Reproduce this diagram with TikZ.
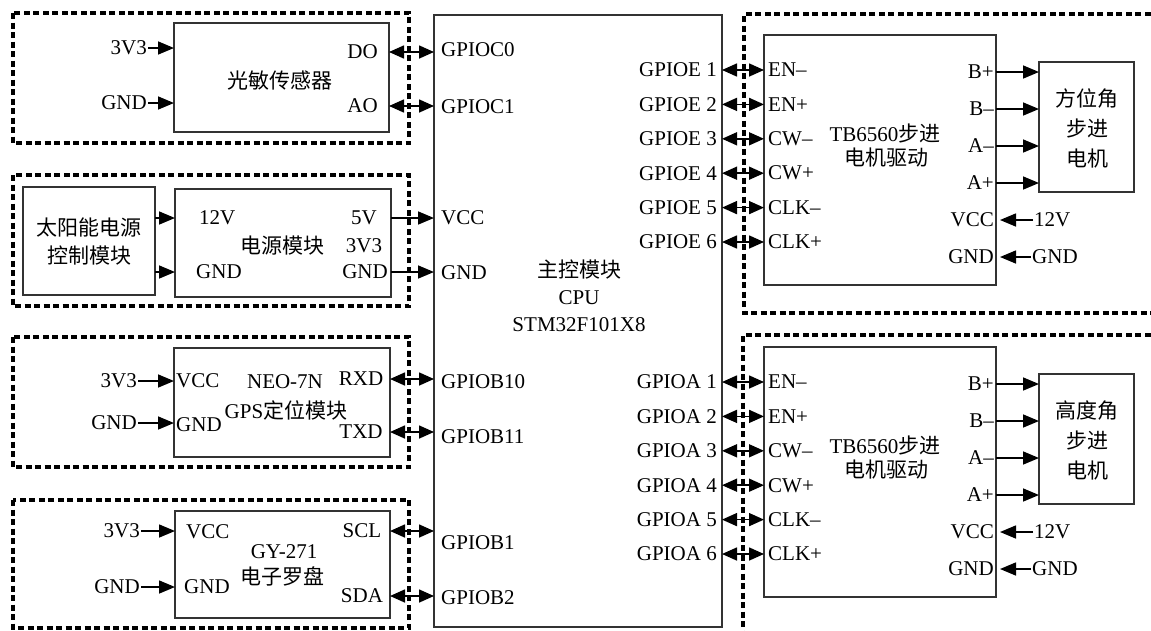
\documentclass[tikz,border=0pt]{standalone}
\usepackage{fontspec}
\setmainfont{Liberation Serif}
\newfontfamily\zh{Noto Sans CJK SC}
\usepackage{tikz}
\usetikzlibrary{positioning,arrows.meta,calc}

% box given by its corners (x1,y1) (x2,y2), y counted downwards
\newcommand{\blk}[5]{
    \node[box, anchor=north west, minimum width=#4-#2, minimum height=#5-#3] (#1) at (#2,#3) {};
}

\newcommand{\drawdriver}[4]{
    % driver board
    \node[box, anchor=north west, minimum width=232, minimum height=250] (#2tb) at (764,#1-35) {};
    \node (#2tbname) at (885,#1+63) {TB6560{\zh 步进}};
    \node (#2tbname2) at (886,#1+88) {\zh 电机驱动};

    \foreach \i/\sig in {1/EN–,2/EN+,3/CW–,4/CW+,5/CLK–,6/CLK+} {
        \node[anchor=east] (#2gp\i) at (718,#1+34.4*\i-34.4) {GPIO#3 \i};
        \node[anchor=west] (#2in\i) at (767,#1+34.4*\i-34.4) {\sig};
        \draw[barr] (cpu.east |- #2gp\i) -- (#2tb.west |- #2gp\i);
    }

    % motor
    \node[box, anchor=north west, minimum width=95, minimum height=130] (#2mot) at (1039,#1-8) {};
    \node[align=center, font=\zh\fontsize{21}{30}\selectfont] (#2motname) at (1087,#1+58) {#4};

    \foreach \i/\sig in {0/B+,1/B–,2/A–,3/A+} {
        \node[anchor=east] (#2out\i) at (995,#1+2+37*\i) {\sig};
        \draw[arr] (#2tb.east |- #2out\i) -- (#2mot.west |- #2out\i);
    }
    \node[anchor=east] (#2vcc) at (995,#1+150) {VCC};
    \node[anchor=east] (#2gnd) at (995,#1+187) {GND};
    \node[anchor=west] (#2v12) at (1033,#1+150) {12V};
    \node[anchor=west] (#2g0) at (1031,#1+187) {GND};
    \draw[arr, shorten >=4pt] (#2v12) -- (#2tb.east |- #2v12);
    \draw[arr, shorten >=4pt] (#2g0) -- (#2tb.east |- #2g0);
}

\begin{document}
\begin{tikzpicture}[x=1pt,y=-1pt,
    font=\fontsize{21}{28}\selectfont,
    every node/.style={inner sep=1pt},
    box/.style={draw=black!80, line width=1.3pt, inner sep=0pt, outer sep=0pt},
    grp/.style={draw=black, line width=3.2pt, dash pattern=on 6pt off 3.5pt},
    arr/.style={line width=1.6pt, -{Triangle[length=16pt,width=13pt]}},
    barr/.style={line width=1.6pt, {Triangle[length=15pt,width=13pt]}-{Triangle[length=15pt,width=13pt]}}]

\useasboundingbox (0,0) rectangle (1151,630);

% -------------------------
% CPU
% -------------------------
\blk{cpu}{434}{15}{722}{627}
\node[align=center, font=\fontsize{21}{27}\selectfont] (cpuname) at (579,296) {{\zh 主控模块}\\CPU\\STM32F101X8};
\node[anchor=west] (c0) at (440,50) {GPIOC0};
\node[anchor=west] (c1) at (440,107) {GPIOC1};
\node[anchor=west] (cvcc) at (440,218) {VCC};
\node[anchor=west] (cgnd) at (440,273) {GND};
\node[anchor=west] (b10) at (440,382) {GPIOB10};
\node[anchor=west] (b11) at (440,437) {GPIOB11};
\node[anchor=west] (b1) at (440,543) {GPIOB1};
\node[anchor=west] (b2) at (440,598) {GPIOB2};

% -------------------------
% Light sensor
% -------------------------
\draw[grp] (13,13) rectangle (409,143);
\blk{ls}{174}{23}{389}{132}
\node (lsname) at (280,81) {\zh 光敏传感器};
\node[anchor=east] (lsdo) at (379,52) {DO};
\node[anchor=east] (lsao) at (379,106) {AO};
\node[anchor=east] (ls3v3) at (148,48) {3V3};
\node[anchor=east] (lsgnd) at (148,103) {GND};
\draw[arr] (ls3v3) -- (ls.west |- ls3v3);
\draw[arr] (lsgnd) -- (ls.west |- lsgnd);
\draw[barr] (ls.east |- lsdo) -- (cpu.west |- lsdo);
\draw[barr] (ls.east |- lsao) -- (cpu.west |- lsao);

% -------------------------
% Power
% -------------------------
\draw[grp] (13,175) rectangle (409,306);
\blk{sol}{23}{187}{155}{295}
\node[align=center, font=\zh\fontsize{21}{28}\selectfont] (solname) at (89,242) {太阳能电源\\控制模块};
\blk{pwr}{175}{189}{391}{297}
\node (pname) at (282,246) {\zh 电源模块};
\node[anchor=west] (p12) at (198,218) {12V};
\node[anchor=west] (pgin) at (195,272) {GND};
\node (p5v) at (364,218) {5V};
\node (p3v3) at (364,246) {3V3};
\node (pgout) at (365,272) {GND};
\draw[arr] (sol.east |- p12) -- (pwr.west |- p12);
\draw[arr] (sol.east |- pgin) -- (pwr.west |- pgin);
\draw[arr] (pwr.east |- p5v) -- (cpu.west |- p5v);
\draw[arr] (pwr.east |- pgout) -- (cpu.west |- pgout);

% -------------------------
% GPS
% -------------------------
\draw[grp] (13,337) rectangle (409,467);
\blk{gps}{174}{348}{390}{457}
\node (gname) at (285,382) {NEO-7N};
\node (gname2) at (286,410) {GPS{\zh 定位模块}};
\node[anchor=east] (g3v3) at (138,381) {3V3};
\node[anchor=east] (ggnd) at (138,423) {GND};
\node[anchor=west] (gvcc) at (175,381) {VCC};
\node[anchor=west] (ggnd2) at (175,425) {GND};
\node (grxd) at (361,379) {RXD};
\node (gtxd) at (361,432) {TXD};
\draw[arr] (g3v3) -- (gps.west |- g3v3);
\draw[arr] (ggnd) -- (gps.west |- ggnd);
\draw[barr] (gps.east |- grxd) -- (cpu.west |- grxd);
\draw[barr] (gps.east |- gtxd) -- (cpu.west |- gtxd);

% -------------------------
% Compass
% -------------------------
\draw[grp] (13,500) rectangle (409,628);
\blk{cmp}{175}{511}{390}{618}
\node (cname) at (284,552) {GY-271};
\node (cname2) at (282,576) {\zh 电子罗盘};
\node[anchor=east] (c3v3) at (141,531) {3V3};
\node[anchor=east] (cgnd0) at (141,587) {GND};
\node[anchor=west] (cvcc2) at (185,532) {VCC};
\node[anchor=west] (cgnd2) at (183,587) {GND};
\node (cscl) at (362,531) {SCL};
\node (csda) at (362,596) {SDA};
\draw[arr] (c3v3) -- (cmp.west |- c3v3);
\draw[arr] (cgnd0) -- (cmp.west |- cgnd0);
\draw[barr] (cmp.east |- cscl) -- (cpu.west |- cscl);
\draw[barr] (cmp.east |- csda) -- (cpu.west |- csda);

% -------------------------
% Stepper drivers
% -------------------------
\draw[grp] (1160,14) -| (744,313) -- (1160,313);
\draw[grp] (1160,335) -| (743,640);
\drawdriver{70}{az}{E}{方位角\\步进\\电机}
\drawdriver{382}{el}{A}{高度角\\步进\\电机}

\end{tikzpicture}
\end{document}
